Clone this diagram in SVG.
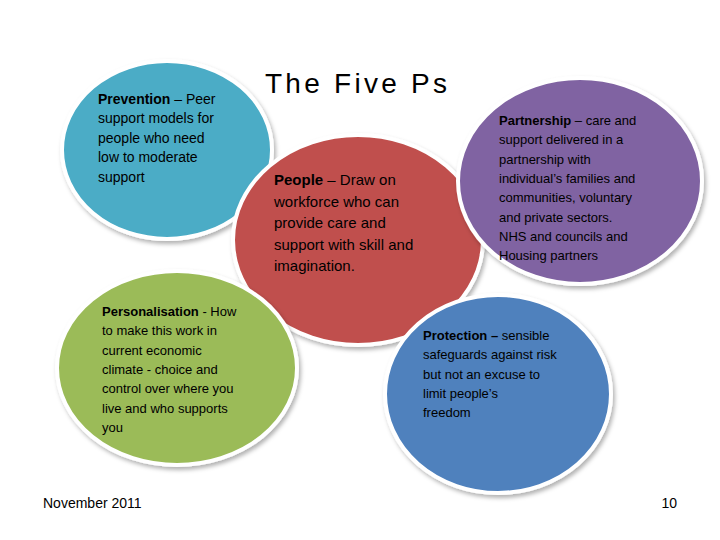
<svg xmlns="http://www.w3.org/2000/svg" width="720" height="540" viewBox="0 0 720 540">
<defs>
<filter id="sh" x="-10%" y="-10%" width="125%" height="125%"><feDropShadow dx="2" dy="3" stdDeviation="2" flood-color="#000" flood-opacity="0.3"/></filter>
</defs>
<style>
.c{stroke:#fff;stroke-width:4;filter:url(#sh)}
text{font-family:"Liberation Sans",Arial,sans-serif;fill:#000}
.t{font-size:14px}
.s{font-size:13px}
.m{font-size:15px}
</style>
<rect width="720" height="540" fill="#fff"/>
<text x="265" y="93" font-size="28" textLength="182">The Five  Ps</text>
<g id="prevention">
<ellipse class="c" cx="167" cy="150" rx="105" ry="89" fill="#4bacc6"/>
<text class="t" x="98"><tspan x="98" y="104"><tspan font-weight="bold">Prevention</tspan> – Peer</tspan><tspan x="98" y="123">support models for</tspan><tspan x="98" y="143">people who need</tspan><tspan x="98" y="162">low to moderate</tspan><tspan x="98" y="182">support</tspan></text>
</g>
<g id="people">
<ellipse class="c" cx="358" cy="240" rx="125" ry="105" fill="#c0504d"/>
<text class="m"><tspan x="274" y="185"><tspan font-weight="bold">People</tspan> – Draw on</tspan><tspan x="274" y="207">workforce who can</tspan><tspan x="274" y="228">provide care and</tspan><tspan x="274" y="250">support with skill and</tspan><tspan x="274" y="271">imagination.</tspan></text>
</g>
<g id="personalisation">
<ellipse class="c" cx="177" cy="368" rx="120" ry="97" fill="#9bbb59"/>
<text class="s"><tspan x="102" y="316"><tspan font-weight="bold">Personalisation</tspan> - How</tspan><tspan x="102" y="335">to make this work in</tspan><tspan x="102" y="355">current economic</tspan><tspan x="102" y="374">climate -  choice and</tspan><tspan x="102" y="393">control over where you</tspan><tspan x="102" y="413">live and who supports</tspan><tspan x="102" y="432">you</tspan></text>
</g>
<g id="partnership">
<ellipse class="c" cx="580" cy="181" rx="122" ry="103" fill="#8064a2"/>
<text class="s"><tspan x="499" y="125"><tspan font-weight="bold">Partnership</tspan> – care and</tspan><tspan x="499" y="144">support delivered in a</tspan><tspan x="499" y="164">partnership with</tspan><tspan x="499" y="183">individual’s families and</tspan><tspan x="499" y="202">communities, voluntary</tspan><tspan x="499" y="222">and private sectors.</tspan><tspan x="499" y="241">NHS and councils and</tspan><tspan x="499" y="260">Housing partners</tspan></text>
</g>
<g id="protection">
<ellipse class="c" cx="498" cy="394" rx="113" ry="99" fill="#4f81bd"/>
<text class="s"><tspan x="423" y="340"><tspan font-weight="bold">Protection –</tspan> sensible</tspan><tspan x="423" y="359">safeguards against risk</tspan><tspan x="423" y="379">but not an excuse  to</tspan><tspan x="423" y="398">limit people’s</tspan><tspan x="423" y="417">freedom</tspan></text>
</g>
<g id="connectors"></g>
<text class="t" x="43" y="508">November 2011</text>
<text class="t" x="677" y="508" text-anchor="end">10</text>
</svg>
